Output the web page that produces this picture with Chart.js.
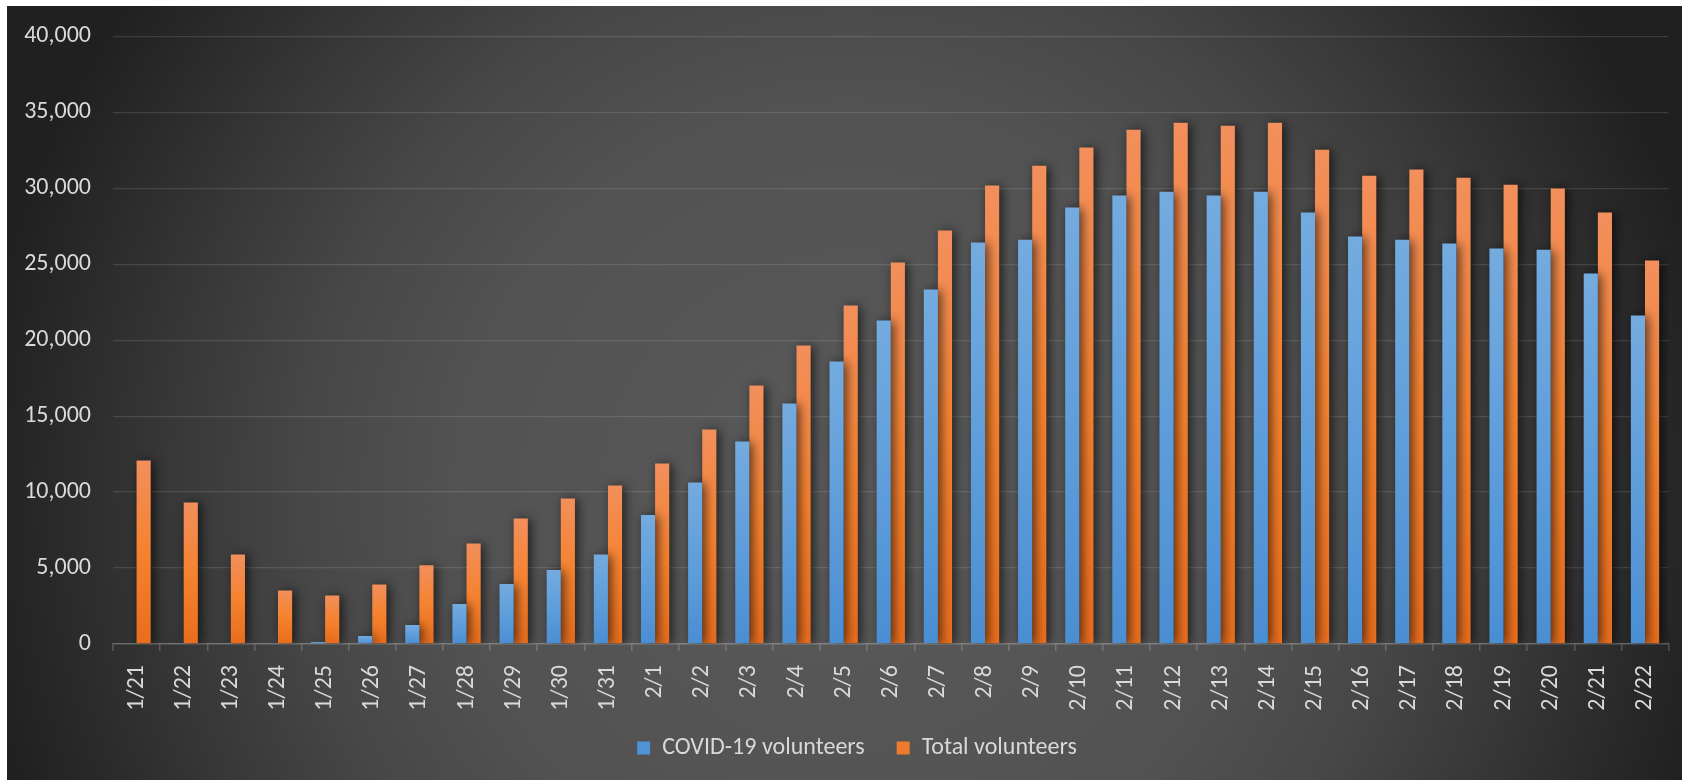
<!DOCTYPE html>
<html>
<head>
<meta charset="utf-8">
<script src="https://cdn.jsdelivr.net/npm/chart.js@4.4.1/dist/chart.umd.min.js"></script>
<style>
  html, body { margin: 0; padding: 0; background: #ffffff; }
  #wrap { position: relative; width: 1688px; height: 780px; overflow: hidden; }
  #panel {
    position: absolute; left: 7px; top: 6px; width: 1675px; height: 774px;
    background: radial-gradient(circle 880px at 843px 494px, #5a5a5a 0%, #525252 45%, #474747 62%, #383838 77%, #292929 91%, #202020 100%);
  }
  #chart { position: absolute; left: 0; top: 0; }
</style>
</head>
<body>
<div id="wrap">
  <div id="panel"></div>
  <canvas id="chart" width="1688" height="780"></canvas>
</div>
<script>
// dias
const dias = ['1/21', '1/22', '1/23', '1/24', '1/25', '1/26', '1/27', '1/28', '1/29', '1/30', '1/31',
  '2/1', '2/2', '2/3', '2/4', '2/5', '2/6', '2/7', '2/8', '2/9', '2/10', '2/11',
  '2/12', '2/13', '2/14', '2/15', '2/16', '2/17', '2/18', '2/19', '2/20', '2/21', '2/22'];

const covidVolunteers = [0, 60, 60, 0, 130, 530, 1250, 2630, 3950, 4870, 5900,
  8500, 10640, 13330, 15830, 18600, 21300, 23330, 26430, 26620, 28730, 29520,
  29780, 29520, 29780, 28400, 26820, 26620, 26360, 26030, 25960, 24390, 21620];

const totalVolunteers = [12080, 9320, 5900, 3530, 3200, 3920, 5180, 6620, 8270, 9580, 10440,
  11890, 14120, 17020, 19650, 22280, 25110, 27220, 30180, 31490, 32680, 33860,
  34320, 34120, 34320, 32540, 30830, 31230, 30700, 30240, 29980, 28400, 25240];

const yTicks = { min: 0, max: 40000, step: 5000 };

const textColor = '#d9d9d9';
const fontFamily = "Carlito, Calibri, Lato, 'Open Sans', sans-serif";
const fontSize = 24;

// gradiente por barra (claro em cima, escuro embaixo)
function barGradient(stops, solid) {
  return function (context) {
    const chart = context.chart;
    if (!chart.chartArea || context.type !== 'data') return solid;
    const y = chart.scales.y;
    const top = y.getPixelForValue(context.raw);
    const bottom = y.getPixelForValue(0);
    if (bottom - top < 2) return solid;
    const g = chart.ctx.createLinearGradient(0, top, 0, bottom);
    g.addColorStop(0, stops[0]);
    g.addColorStop(0.5, stops[1]);
    g.addColorStop(1, stops[2]);
    return g;
  };
}

const shadowPlugin = {
  id: 'barShadow',
  beforeDatasetsDraw(chart) {
    const ctx = chart.ctx;
    ctx.save();
    ctx.shadowColor = 'rgba(0, 0, 0, 0.65)';
    ctx.shadowBlur = 11;
    ctx.shadowOffsetX = 3;
    ctx.shadowOffsetY = 1;
  },
  afterDatasetsDraw(chart) {
    chart.ctx.restore();
  }
};

// legenda deslocada (direita / acima), como no original
const legendShift = {
  id: 'legendShift',
  afterLayout(chart) {
    const lg = chart.legend;
    if (lg) {
      lg.left += 20;
      lg.right += 20;
      lg.top -= 6;
      lg.bottom -= 6;
    }
  }
};

document.addEventListener('DOMContentLoaded', function () {
  const ctx = document.getElementById('chart').getContext('2d');

  new Chart(ctx, {
    type: 'bar',
    data: {
      labels: dias,
      datasets: [{
        label: 'COVID-19 volunteers',
        data: covidVolunteers,
        backgroundColor: barGradient(['#74abdf', '#5f9edb', '#4a8ed2'], '#5b9bd5'),
        borderWidth: 0
      }, {
        label: 'Total volunteers',
        data: totalVolunteers,
        backgroundColor: barGradient(['#f28f5c', '#f5822f', '#e86d1d'], '#ed7d31'),
        borderWidth: 0
      }]
    },
    plugins: [shadowPlugin, legendShift],
    options: {
      responsive: false,
      animation: false,
      devicePixelRatio: 1,
      layout: { padding: { top: 36, right: 14, bottom: 4, left: 0 } },
      datasets: {
        bar: { categoryPercentage: 0.6, barPercentage: 1.0 }
      },
      plugins: {
        legend: {
          position: 'bottom',
          labels: {
            color: textColor,
            font: { family: fontFamily, size: fontSize },
            boxWidth: 13,
            boxHeight: 13,
            padding: 32,
            generateLabels: function (chart) {
              const fills = ['#4f93d6', '#ee7a2c'];
              return chart.data.datasets.map((ds, i) => ({
                text: ds.label,
                fillStyle: fills[i],
                strokeStyle: fills[i],
                lineWidth: 0,
                fontColor: textColor,
                datasetIndex: i,
                hidden: false
              }));
            }
          }
        },
        tooltip: { enabled: false }
      },
      scales: {
        x: {
          afterFit: function (scale) { scale.height = 66; },
          border: { display: true, color: 'rgba(255,255,255,0.2)', width: 1.5 },
          grid: {
            drawOnChartArea: false,
            drawTicks: true,
            tickLength: 7,
            offset: true,
            color: 'rgba(255,255,255,0.2)',
            lineWidth: 1.5
          },
          ticks: {
            color: textColor,
            font: { family: fontFamily, size: fontSize },
            minRotation: 90,
            maxRotation: 90,
            autoSkip: false,
            padding: 14
          }
        },
        y: {
          min: yTicks.min,
          max: yTicks.max,
          afterFit: function (scale) { scale.width = 113; },
          border: { display: false },
          grid: {
            color: 'rgba(255,255,255,0.12)',
            lineWidth: 1.3,
            drawTicks: false
          },
          ticks: {
            stepSize: yTicks.step,
            color: textColor,
            font: { family: fontFamily, size: fontSize },
            padding: 22,
            callback: function (value) {
              return value.toLocaleString('en-US');
            }
          }
        }
      }
    }
  });
});
</script>
</body>
</html>
